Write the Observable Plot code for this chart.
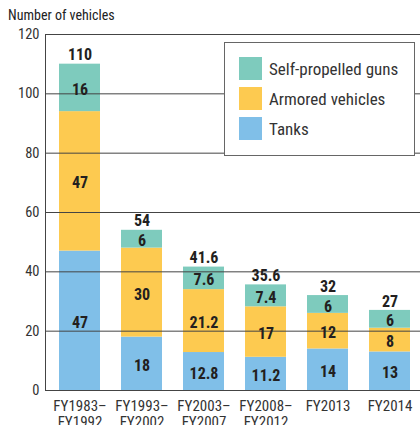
<!DOCTYPE html>
<html><head><meta charset="utf-8">
<script src="https://cdn.jsdelivr.net/npm/d3@7"></script>
<script src="https://cdn.jsdelivr.net/npm/@observablehq/plot@0.6"></script>
<style>
body{margin:0;background:#fff;font-family:"Liberation Sans Narrow","Arial Narrow","Roboto Condensed",sans-serif;}
#wrap{position:relative;width:420px;height:425px;overflow:hidden}
#title{position:absolute;left:8px;top:7px;font-size:14px;line-height:16px;color:#222}
#chart{position:absolute;left:0;top:24px}
#legend{position:absolute;left:224px;top:42px;width:189px;height:112px;border:1px solid #666;background:#fff;box-sizing:content-box}
.item{position:absolute;left:14px;height:23px;display:flex;align-items:center;font-size:17px;color:#333}
.sw{width:23px;height:23px;margin-right:7px;flex:none}
</style>
</head><body>
<div id="wrap">
  <div id="title">Number of vehicles</div>
  <div id="chart"></div>
  <div id="legend"></div>
</div>
<script>
const periods = ["FY1983–\nFY1992","FY1993–\nFY2002","FY2003–\nFY2007","FY2008–\nFY2012","FY2013","FY2014"];
const seriesNames = ["Tanks","Armored vehicles","Self-propelled guns"];
const seriesColors = ["#80bfe8","#fdca50","#7ecbbd"];
const tanks = [47,18,12.8,11.2,14,13];
const armored = [47,30,21.2,17,12,8];
const spg = [16,6,7.6,7.4,6,6];
const totals = [110,54,41.6,35.6,32,27];
const yTicks = [0,20,40,60,80,100,120];

const seriesValues = [tanks, armored, spg];
const rows = [];
seriesNames.forEach((s, si) => periods.forEach((p, i) => rows.push({period: p, type: s, value: seriesValues[si][i]})));
const totalRows = periods.map((p, i) => ({period: p, total: totals[i]}));

const chart = Plot.plot({
  width: 420,
  height: 401,
  marginLeft: 45,
  marginRight: 0,
  marginTop: 10,
  marginBottom: 35,
  style: {fontFamily: '"Liberation Sans Narrow","Arial Narrow","Roboto Condensed",sans-serif', background: "transparent"},
  x: {domain: periods, range: [45, 424], paddingInner: 1/3, paddingOuter: 0.175, label: null},
  y: {domain: [0, 120], label: null},
  color: {domain: seriesNames, range: seriesColors},
  marks: [
    Plot.barY(rows, Plot.stackY({x: "period", y: "value", z: "type", fill: "type", order: null})),
    Plot.ruleY(yTicks, {stroke: "#444", strokeWidth: 1}),
    Plot.frame({anchor: "left", stroke: "#444"}),
    Plot.text(rows, Plot.stackY({x: "period", y: "value", z: "type", text: d => String(d.value), fontSize: 16, fontWeight: "bold", fill: "#231f20", dy: 2})),
    Plot.text(totalRows, {x: "period", y: "total", text: d => String(d.total), dy: -9, fontSize: 16, fontWeight: "bold", fill: "#231f20"}),
    Plot.axisY({ticks: yTicks, tickSize: 0, tickPadding: 6, fontSize: 14.5, fill: "#333", label: null}),
    Plot.axisX({tickSize: 0, tickPadding: 8, fontSize: 15, lineHeight: 1.13, fill: "#333", label: null})
  ]
});
document.getElementById("chart").appendChild(chart);

const legend = document.getElementById("legend");
const legendOrder = [2, 1, 0];
legendOrder.forEach((si, k) => {
  const it = document.createElement("div");
  it.className = "item";
  it.style.top = (14 + k * 30) + "px";
  it.innerHTML = `<div class="sw" style="background:${seriesColors[si]}"></div><span>${seriesNames[si]}</span>`;
  legend.appendChild(it);
});
</script>
</body></html>
